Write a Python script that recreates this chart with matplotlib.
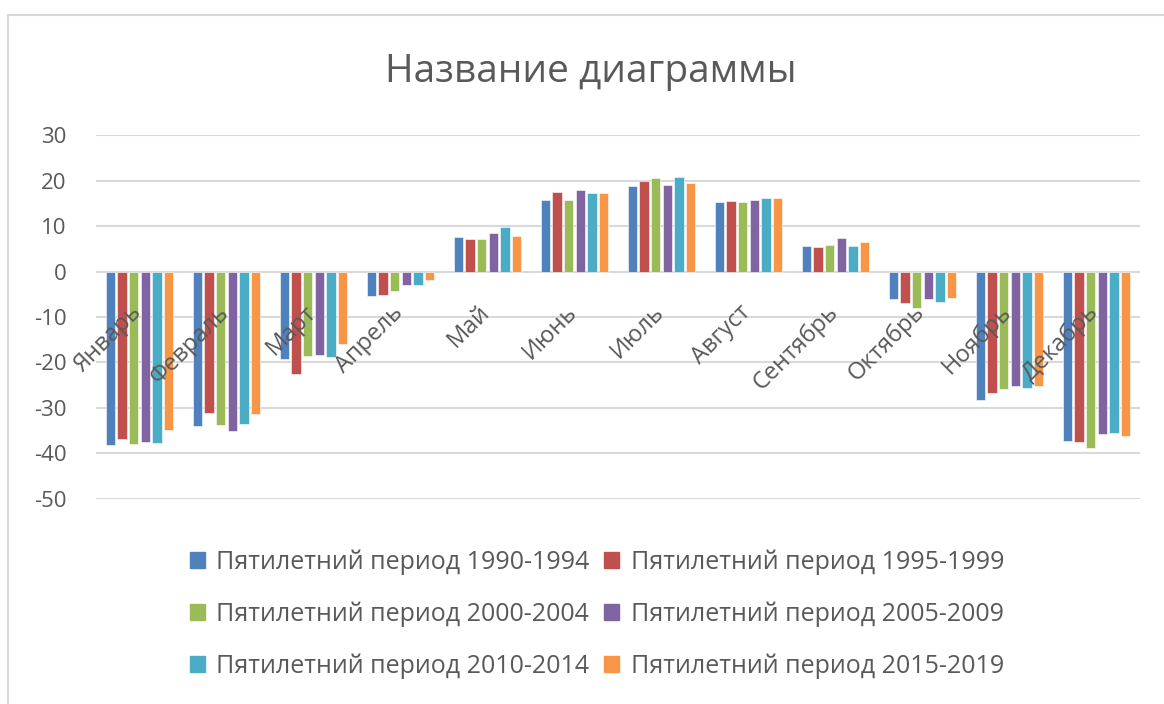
import numpy as np
import matplotlib.pyplot as plt
from matplotlib.patches import Rectangle, Patch

plt.rcParams['font.family'] = ['Open Sans', 'DejaVu Sans']
plt.rcParams['axes.unicode_minus'] = False

months = ['Январь', 'Февраль', 'Март', 'Апрель', 'Май', 'Июнь', 'Июль',
          'Август', 'Сентябрь', 'Октябрь', 'Ноябрь', 'Декабрь']
series_names = ['Пятилетний период 1990-1994', 'Пятилетний период 1995-1999',
                'Пятилетний период 2000-2004', 'Пятилетний период 2005-2009',
                'Пятилетний период 2010-2014', 'Пятилетний период 2015-2019']

p1990 = [-38.3, -34.1, -19.3, -5.5, 7.7, 15.8, 18.8, 15.4, 5.7, -6.1, -28.4, -37.4]
p1995 = [-36.8, -31.2, -22.5, -5.1, 7.1, 17.5, 19.9, 15.5, 5.5, -6.9, -26.7, -37.6]
p2000 = [-38.0, -33.8, -18.7, -4.2, 7.1, 15.7, 20.5, 15.4, 5.8, -8.1, -25.8, -38.8]
p2005 = [-37.6, -35.1, -18.5, -3.0, 8.5, 17.9, 19.0, 15.7, 7.3, -6.1, -25.3, -35.8]
p2010 = [-37.8, -33.5, -18.8, -2.9, 9.7, 17.3, 20.8, 16.1, 5.7, -6.7, -25.6, -35.5]
p2015 = [-34.9, -31.4, -16.0, -1.9, 7.9, 17.3, 19.6, 16.1, 6.5, -5.9, -25.3, -36.3]
series = [p1990, p1995, p2000, p2005, p2010, p2015]

colors = ['#4F81BD', '#C0504D', '#9BBB59', '#8064A2', '#4BACC6', '#F79646']
text_color = '#595959'
grid_color = '#D9D9D9'

fig = plt.figure(figsize=(11.64, 7.04), dpi=100)
# рамка области диаграммы
fig.patches.append(Rectangle((8 / 1164, -0.05), 1.1, 1 - 15 / 704 + 0.05,
                             transform=fig.transFigure, fill=False,
                             edgecolor='#D9D9D9', linewidth=1.5))

ax = fig.add_axes([96 / 1164, 1 - 498.5 / 704, (1140 - 96) / 1164, (498.5 - 135.3) / 704])

x = np.arange(len(months))
pitch = 11.7 / 87
width = 9.3 / 87
for i, (vals, c) in enumerate(zip(series, colors)):
    ax.bar(x + (i - 2.5) * pitch, vals, width, color=c, edgecolor='white',
           linewidth=0.4, zorder=3, label=series_names[i])

ax.set_xlim(-0.5, len(months) - 0.5)
ax.set_ylim(-50, 30)
ax.set_yticks(range(-50, 31, 10))
ax.yaxis.grid(True, color=grid_color, linewidth=1.5, zorder=0)
for s in ax.spines.values():
    s.set_visible(False)
ax.tick_params(axis='y', length=0, labelsize=16, labelcolor=text_color, pad=21)
ax.set_xticks([])

for xi, m in zip(x, months):
    ax.annotate(m, xy=(xi, 0), xytext=(-1, -27), textcoords='offset points',
                rotation=45, rotation_mode='anchor', ha='right', va='center',
                fontsize=17, color=text_color, zorder=4)

fig.text(591 / 1164, 1 - 72 / 704, 'Название диаграммы', ha='center', va='center',
         fontsize=28, color=text_color)

handles, labels = ax.get_legend_handles_labels()
order = [0, 2, 4, 1, 3, 5]
fig.legend([Patch(color=colors[k]) for k in order], [labels[k] for k in order],
           ncol=2, loc='center', bbox_to_anchor=(597 / 1164, 1 - 614 / 704),
           frameon=False, fontsize=18, labelcolor=text_color,
           handlelength=0.6, handleheight=0.6, handletextpad=0.45,
           columnspacing=0.6, labelspacing=1.06)

fig.savefig('out.png', dpi=100)
